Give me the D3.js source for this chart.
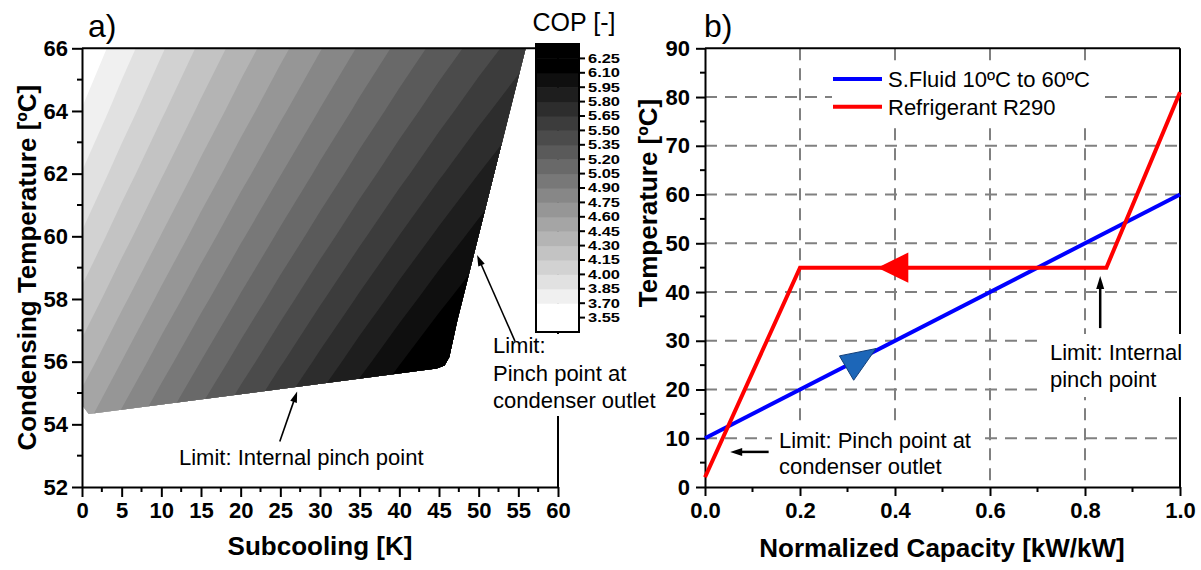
<!DOCTYPE html>
<html>
<head>
<meta charset="utf-8">
<script src="https://cdn.jsdelivr.net/npm/d3@7"></script>
<style>
  body { margin: 0; background: #fff; }
  svg { display: block; }
  text { font-family: "Liberation Sans", Arial, Helvetica, sans-serif; fill: #000; }
</style>
</head>
<body>
<svg id="chart" width="1201" height="570"></svg>
<script>
// ---------------- panel a) : COP map ----------------
const subcooling = [0, 5, 10, 15, 20, 25, 30, 35, 40, 45, 50, 55, 60];   // K
const condTemp   = [52, 54, 56, 58, 60, 62, 64, 66];                       // ºC
// COP on the grid, one row per condensing temperature (52 ... 66 ºC)
const copRows = [
  [4.768, 5.011, 5.249, 5.482, 5.709, 5.931, 6.148, 6.360, 6.566, 6.767, 6.963, 7.153, 7.338],
  [4.563, 4.801, 5.034, 5.262, 5.484, 5.701, 5.913, 6.120, 6.321, 6.517, 6.707, 6.893, 7.073],
  [4.369, 4.602, 4.830, 5.053, 5.270, 5.482, 5.689, 5.891, 6.087, 6.278, 6.464, 6.644, 6.819],
  [4.187, 4.415, 4.638, 4.855, 5.068, 5.275, 5.477, 5.673, 5.864, 6.050, 6.231, 6.406, 6.577],
  [4.015, 4.239, 4.456, 4.669, 4.877, 5.079, 5.275, 5.467, 5.653, 5.834, 6.010, 6.180, 6.345],
  [3.856, 4.074, 4.287, 4.494, 4.697, 4.894, 5.086, 5.272, 5.453, 5.629, 5.800, 5.965, 6.126],
  [3.707, 3.920, 4.128, 4.331, 4.528, 4.720, 4.907, 5.089, 5.265, 5.436, 5.602, 5.762, 5.917],
  [3.570, 3.778, 3.981, 4.179, 4.371, 4.558, 4.740, 4.917, 5.088, 5.254, 5.415, 5.570, 5.720]
];
// contour levels and colour-bar labels
const copLevels = [3.55, 3.70, 3.85, 4.00, 4.15, 4.30, 4.45, 4.60, 4.75, 4.90,
                   5.05, 5.20, 5.35, 5.50, 5.65, 5.80, 5.95, 6.10, 6.25];
const copLabels = ["3.55", "3.70", "3.85", "4.00", "4.15", "4.30", "4.45", "4.60", "4.75", "4.90",
                   "5.05", "5.20", "5.35", "5.50", "5.65", "5.80", "5.95", "6.10", "6.25"];
// feasible operating region (boundary traced clockwise)
const regionSubcooling = [0, 55.93, 47.3, 46.3, 45.7, 44.7, 0.85, 0];
const regionCondTemp   = [66, 66, 57.3, 56.15, 55.88, 55.78, 54.33, 54.62];
const subcoolingTicks = [0, 5, 10, 15, 20, 25, 30, 35, 40, 45, 50, 55, 60];
const condTempTicks   = [52, 54, 56, 58, 60, 62, 64, 66];

// ---------------- panel b) : temperature profiles ----------------
const fluidCapacity = [0, 1];
const fluidTemp     = [10, 60];
const refCapacity   = [0, 0.2, 0.845, 1];
const refTemp       = [2, 45, 45, 81];
const redHeadCap  = [0.363, 0.428, 0.428];
const redHeadTemp = [45, 48.1, 41.9];
const blueHeadCap  = [0.283, 0.360, 0.313];
const blueHeadTemp = [26.9, 28.4, 21.9];
const capacityTicks = [0, 0.2, 0.4, 0.6, 0.8, 1.0];
const tempTicks     = [0, 10, 20, 30, 40, 50, 60, 70, 80, 90];
const seriesNames   = ["S.Fluid 10ºC to 60ºC", "Refrigerant R290"];

// ====================================================================
const svg = d3.select("#chart");
svg.append("rect").attr("width", 1201).attr("height", 570).attr("fill", "#fff");

function styleAxis(g, size) {
  g.attr("font-family", null).attr("font-size", null);
  g.selectAll("text").attr("font-size", size).attr("font-weight", "bold");
  g.selectAll("line, path").attr("stroke", "#000").attr("stroke-width", 2);
}
function minorTicks(g, values, pos, len, orient) {
  g.selectAll(null).data(values).join("line")
    .attr("x1", d => orient === "v" ? pos(d) : 0)
    .attr("x2", d => orient === "v" ? pos(d) : -len)
    .attr("y1", d => orient === "v" ? 0 : pos(d))
    .attr("y2", d => orient === "v" ? len : pos(d))
    .attr("stroke", "#000").attr("stroke-width", 2);
}
function arrow(g, x1, y1, x2, y2, w, hl, hw) {
  const dx = x2 - x1, dy = y2 - y1, L = Math.hypot(dx, dy);
  const ux = dx / L, uy = dy / L;
  const bx = x2 - ux * hl, by = y2 - uy * hl;
  g.append("line").attr("x1", x1).attr("y1", y1).attr("x2", bx + ux).attr("y2", by + uy)
    .attr("stroke", "#000").attr("stroke-width", w);
  g.append("path")
    .attr("d", `M${x2},${y2}L${bx - uy * hw / 2},${by + ux * hw / 2}L${bx + uy * hw / 2},${by - ux * hw / 2}Z`)
    .attr("fill", "#000");
}

// ---------------- panel a) ----------------
const xA = d3.scaleLinear().domain([0, 60]).range([82, 558]);
const yA = d3.scaleLinear().domain([52, 66]).range([487, 48.3]);
const gA = svg.append("g");

const nx = subcooling.length, ny = condTemp.length;
const gridX = d3.scaleLinear().domain([0.5, nx - 0.5]).range([xA(subcooling[0]), xA(subcooling[nx - 1])]);
const gridY = d3.scaleLinear().domain([0.5, ny - 0.5]).range([yA(condTemp[0]), yA(condTemp[ny - 1])]);
const bands = d3.contours().size([nx, ny]).thresholds(copLevels)(copRows.flat());
const toPx = d3.geoTransform({ point(x, y) { this.stream.point(gridX(x), gridY(y)); } });
const contourPath = d3.geoPath(toPx);
const shade = i => { const v = Math.max(0, 255 - 15 * i); return d3.rgb(v, v, v).formatHex(); };

gA.append("clipPath").attr("id", "feasible").append("path")
  .attr("d", d3.line()(regionSubcooling.map((s, i) => [xA(s), yA(regionCondTemp[i])])) + "Z");
const fillG = gA.append("g").attr("clip-path", "url(#feasible)");
fillG.selectAll("path").data(bands).join("path")
  .attr("d", contourPath)
  .attr("fill", (d, i) => shade(i));

// frame
gA.append("line").attr("x1", xA(0)).attr("x2", xA(60)).attr("y1", yA(66)).attr("y2", yA(66))
  .attr("stroke", "#000").attr("stroke-width", 2);
gA.append("line").attr("x1", xA(60)).attr("x2", xA(60)).attr("y1", yA(66)).attr("y2", yA(52))
  .attr("stroke", "#000").attr("stroke-width", 2);

const axAx = gA.append("g").attr("transform", `translate(0,${yA(52)})`)
  .call(d3.axisBottom(xA).tickValues(subcoolingTicks).tickSize(10).tickPadding(5).tickSizeOuter(0));
styleAxis(axAx, 22);
minorTicks(axAx, subcoolingTicks.slice(0, -1).map(d => d + 2.5), xA, 5, "v");
const axAy = gA.append("g").attr("transform", `translate(${xA(0)},0)`)
  .call(d3.axisLeft(yA).tickValues(condTempTicks).tickSize(10).tickPadding(4).tickSizeOuter(0));
styleAxis(axAy, 22);
minorTicks(axAy, condTempTicks.slice(0, -1).map(d => d + 1), yA, 5, "h");

gA.append("text").attr("x", 320).attr("y", 555).attr("text-anchor", "middle")
  .attr("font-size", 26).attr("font-weight", "bold").text("Subcooling [K]");
gA.append("text").attr("transform", `translate(36,${(yA(52) + yA(66)) / 2}) rotate(-90)`)
  .attr("text-anchor", "middle").attr("font-size", 26).attr("font-weight", "bold")
  .text("Condensing Temperature [ºC]");
gA.append("text").attr("x", 88).attr("y", 37).attr("font-size", 32).text("a)");

// colour bar
const cbY = d3.scaleLinear()
  .domain([copLevels[0] - 0.15, copLevels[copLevels.length - 1] + 0.15]).range([332, 44]);
const cbEdges = [cbY.domain()[0], ...copLevels, cbY.domain()[1]];
const cbG = svg.append("g");
cbG.selectAll("rect.band").data(d3.pairs(cbEdges)).join("rect")
  .attr("x", 536).attr("width", 43)
  .attr("y", d => cbY(d[1])).attr("height", d => cbY(d[0]) - cbY(d[1]) + 0.5)
  .attr("fill", (d, i) => i === 0 ? "#fff" : shade(i - 1));
cbG.append("rect").attr("x", 536).attr("y", 44).attr("width", 43).attr("height", 288)
  .attr("fill", "none").attr("stroke", "#000").attr("stroke-width", 2);
cbG.selectAll("line.tk").data(copLevels).join("line")
  .attr("x1", 579).attr("x2", 585).attr("y1", d => cbY(d)).attr("y2", d => cbY(d))
  .attr("stroke", "#000").attr("stroke-width", 2);
cbG.selectAll("text.lb").data(copLevels).join("text")
  .attr("x", 588).attr("y", d => cbY(d)).attr("dy", "0.36em")
  .attr("font-size", 12.4).attr("font-weight", "bold")
  .attr("textLength", 32).attr("lengthAdjust", "spacingAndGlyphs")
  .text((d, i) => copLabels[i]);
cbG.append("text").attr("x", 574).attr("y", 31).attr("text-anchor", "middle")
  .attr("font-size", 25).text("COP [-]");

// annotations
gA.append("rect").attr("x", 488).attr("y", 334).attr("width", 172).attr("height", 82).attr("fill", "#fff");
const noteA = gA.append("text").attr("font-size", 22);
noteA.append("tspan").attr("x", 493).attr("y", 353).text("Limit:");
noteA.append("tspan").attr("x", 493).attr("y", 380.5).text("Pinch point at");
noteA.append("tspan").attr("x", 493).attr("y", 408).text("condenser outlet");
gA.append("text").attr("x", 179).attr("y", 465).attr("font-size", 22).text("Limit: Internal pinch point");
arrow(gA, xA(24.93), yA(53.45), xA(27.12), yA(55.05), 1.6, 11, 7);
arrow(gA, xA(54.6), yA(56.64), xA(49.8), yA(59.4), 1.6, 11, 7);

// ---------------- panel b) ----------------
const xB = d3.scaleLinear().domain([0, 1]).range([705, 1180]);
const yB = d3.scaleLinear().domain([0, 90]).range([487, 48.3]);
const gB = svg.append("g");

gB.selectAll("line.gx").data(capacityTicks.slice(1, -1)).join("line")
  .attr("x1", d => xB(d)).attr("x2", d => xB(d)).attr("y1", yB(90)).attr("y2", yB(0))
  .attr("stroke", "#808080").attr("stroke-width", 2).attr("stroke-dasharray", "12,8");
gB.selectAll("line.gy").data(tempTicks.slice(1, -1)).join("line")
  .attr("x1", xB(0)).attr("x2", xB(1)).attr("y1", d => yB(d)).attr("y2", d => yB(d))
  .attr("stroke", "#808080").attr("stroke-width", 2).attr("stroke-dasharray", "12,8");

gB.append("line").attr("x1", xB(0)).attr("x2", xB(1)).attr("y1", yB(90)).attr("y2", yB(90))
  .attr("stroke", "#000").attr("stroke-width", 2);
gB.append("line").attr("x1", xB(1)).attr("x2", xB(1)).attr("y1", yB(90)).attr("y2", yB(0))
  .attr("stroke", "#000").attr("stroke-width", 2);

const axBx = gB.append("g").attr("transform", `translate(0,${yB(0)})`)
  .call(d3.axisBottom(xB).tickValues(capacityTicks).tickFormat(d3.format(".1f"))
    .tickSize(9).tickPadding(6).tickSizeOuter(0));
styleAxis(axBx, 22);
minorTicks(axBx, capacityTicks.slice(0, -1).map(d => d + 0.1), xB, 5, "v");
const axBy = gB.append("g").attr("transform", `translate(${xB(0)},0)`)
  .call(d3.axisLeft(yB).tickValues(tempTicks).tickSize(9).tickPadding(6).tickSizeOuter(0));
styleAxis(axBy, 22);
minorTicks(axBy, tempTicks.slice(0, -1).map(d => d + 5), yB, 5, "h");

gB.append("text").attr("x", 942).attr("y", 557).attr("text-anchor", "middle")
  .attr("font-size", 26).attr("font-weight", "bold").text("Normalized Capacity [kW/kW]");
gB.append("text").attr("transform", `translate(657,203) rotate(-90)`)
  .attr("text-anchor", "middle").attr("font-size", 26).attr("font-weight", "bold")
  .text("Temperature [ºC]");
gB.append("text").attr("x", 704).attr("y", 37).attr("font-size", 32).text("b)");

const lineGen = d3.line();
gB.append("path").attr("d", lineGen(fluidCapacity.map((c, i) => [xB(c), yB(fluidTemp[i])])))
  .attr("fill", "none").attr("stroke", "#0000ff").attr("stroke-width", 4);
gB.append("path").attr("d", lineGen(refCapacity.map((c, i) => [xB(c), yB(refTemp[i])])))
  .attr("fill", "none").attr("stroke", "#ff0000").attr("stroke-width", 4);
gB.append("path").attr("d", lineGen(redHeadCap.map((c, i) => [xB(c), yB(redHeadTemp[i])])) + "Z")
  .attr("fill", "#ff0000");
gB.append("path").attr("d", lineGen(blueHeadCap.map((c, i) => [xB(c), yB(blueHeadTemp[i])])) + "Z")
  .attr("fill", "#1c66b8").attr("stroke", "#123f7a").attr("stroke-width", 1);

// legend
gB.append("rect").attr("x", 832).attr("y", 66).attr("width", 268).attr("height", 56).attr("fill", "#fff");
const legColors = ["#0000ff", "#ff0000"];
seriesNames.forEach((name, i) => {
  const y = 79 + i * 27.7;
  gB.append("line").attr("x1", 833).attr("x2", 882).attr("y1", y).attr("y2", y)
    .attr("stroke", legColors[i]).attr("stroke-width", 4);
  gB.append("text").attr("x", 888).attr("y", y + 8).attr("font-size", 22).text(name);
});

// annotations
gB.append("rect").attr("x", 1042).attr("y", 334).attr("width", 144).attr("height", 63).attr("fill", "#fff");
const noteB1 = gB.append("text").attr("font-size", 22);
noteB1.append("tspan").attr("x", 1050).attr("y", 360).text("Limit: Internal");
noteB1.append("tspan").attr("x", 1050).attr("y", 387).text("pinch point");
gB.append("rect").attr("x", 772).attr("y", 426).attr("width", 210).attr("height", 58).attr("fill", "#fff");
const noteB2 = gB.append("text").attr("font-size", 22);
noteB2.append("tspan").attr("x", 779).attr("y", 448).text("Limit: Pinch point at");
noteB2.append("tspan").attr("x", 779).attr("y", 474).text("condenser outlet");
arrow(gB, xB(0.832), yB(32.6), xB(0.832), yB(43.3), 2.5, 13, 8);
arrow(gB, xB(0.134), yB(7.2), xB(0.053), yB(7.2), 2.5, 12, 8);
</script>
</body>
</html>
